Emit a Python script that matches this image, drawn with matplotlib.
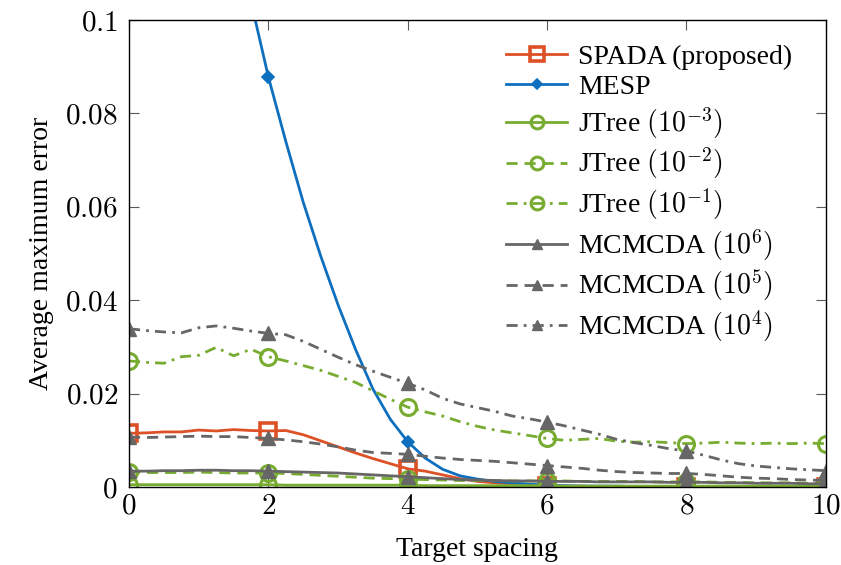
import matplotlib
matplotlib.use("Agg")
import matplotlib.pyplot as plt
import numpy as np
from matplotlib.ticker import FuncFormatter


plt.rcParams['font.family'] = ['Liberation Serif', 'DejaVu Serif']
plt.rcParams['mathtext.fontset'] = 'cm'

# target spacing, sampled every 0.25
spacing = np.arange(0, 10.25, 0.25)

spada = [0.0115, 0.0116, 0.0118, 0.0118, 0.0122, 0.0120, 0.0123, 0.0121, 0.0120,
         0.0121, 0.0112, 0.0099, 0.0086, 0.0073, 0.0061, 0.0050, 0.0039,
         0.0034, 0.0026, 0.0018, 0.0012, 0.0009, 0.0006, 0.0004, 0.0002,
         0.0002, 0.0002, 0.0001, 0.0001, 0.0001, 0.0001, 0.0001, 0.0001,
         0.0001, 0.0001, 0.0001, 0.0001, 0.0001, 0.0001, 0.0001, 0.0001]

mesp = [0.230, 0.212, 0.193, 0.176, 0.160, 0.140, 0.121, 0.104, 0.0878,
        0.0740, 0.0610, 0.0495, 0.0390, 0.0295, 0.0210, 0.0145, 0.0097,
        0.0062, 0.0038, 0.0024, 0.0017, 0.0012, 0.0009, 0.0006, 0.0004,
        0.0003, 0.0002, 0.0002, 0.0002, 0.0001, 0.0001, 0.0001, 0.0001,
        0.0001, 0.0001, 0.0001, 0.0001, 0.0001, 0.0001, 0.0001, 0.0001]

jtree_3 = [0.0005, 0.0005, 0.0005, 0.0005, 0.0005, 0.0005, 0.0005, 0.0005, 0.0005,
           0.0004, 0.0004, 0.0004, 0.0004, 0.0004, 0.0004, 0.0004, 0.0004,
           0.0003, 0.0003, 0.0003, 0.0003, 0.0003, 0.0003, 0.0003, 0.0003,
           0.0002, 0.0002, 0.0002, 0.0002, 0.0002, 0.0002, 0.0002, 0.0002,
           0.0002, 0.0002, 0.0002, 0.0002, 0.0002, 0.0002, 0.0002, 0.0002]

jtree_2 = [0.0032, 0.0031, 0.0031, 0.0031, 0.0032, 0.0031, 0.0030, 0.0030, 0.0030,
           0.0029, 0.0027, 0.0025, 0.0023, 0.0021, 0.0019, 0.0018, 0.0017,
           0.0016, 0.0015, 0.0014, 0.0014, 0.0014, 0.0013, 0.0013, 0.0013,
           0.0013, 0.0012, 0.0012, 0.0012, 0.0012, 0.0011, 0.0011, 0.0011,
           0.0011, 0.0010, 0.0010, 0.0009, 0.0009, 0.0009, 0.0008, 0.0008]

jtree_1 = [0.0270, 0.0267, 0.0265, 0.0279, 0.0282, 0.0299, 0.0281, 0.0295, 0.0279,
           0.0270, 0.0260, 0.0250, 0.0237, 0.0224, 0.0206, 0.0188, 0.0171,
           0.0161, 0.0152, 0.0140, 0.0130, 0.0122, 0.0116, 0.0110, 0.0104,
           0.0100, 0.0102, 0.0104, 0.0098, 0.0096, 0.0097, 0.0095, 0.0093,
           0.0094, 0.0096, 0.0094, 0.0093, 0.0094, 0.0093, 0.0094, 0.0093]

mcmcda_6 = [0.0034, 0.0034, 0.0035, 0.0035, 0.0036, 0.0036, 0.0035, 0.0035, 0.0034,
            0.0033, 0.0032, 0.0031, 0.0030, 0.0028, 0.0026, 0.0024, 0.0022,
            0.0020, 0.0018, 0.0016, 0.0015, 0.0014, 0.0013, 0.0013, 0.0012,
            0.0012, 0.0012, 0.0011, 0.0011, 0.0011, 0.0011, 0.0010, 0.0010,
            0.0010, 0.0009, 0.0009, 0.0008, 0.0008, 0.0008, 0.0007, 0.0007]

mcmcda_5 = [0.0107, 0.0106, 0.0107, 0.0108, 0.0109, 0.0108, 0.0108, 0.0106, 0.0104,
            0.0101, 0.0097, 0.0092, 0.0086, 0.0079, 0.0074, 0.0072, 0.0070,
            0.0066, 0.0062, 0.0059, 0.0057, 0.0055, 0.0052, 0.0049, 0.0046,
            0.0043, 0.0040, 0.0036, 0.0033, 0.0031, 0.0030, 0.0029, 0.0029,
            0.0027, 0.0024, 0.0021, 0.0019, 0.0018, 0.0016, 0.0015, 0.0014]

mcmcda_4 = [0.0339, 0.0335, 0.0332, 0.0330, 0.0341, 0.0345, 0.0340, 0.0334, 0.0329,
            0.0326, 0.0312, 0.0295, 0.0278, 0.0262, 0.0248, 0.0235, 0.0222,
            0.0208, 0.0190, 0.0178, 0.0170, 0.0162, 0.0152, 0.0146, 0.0139,
            0.0131, 0.0122, 0.0113, 0.0102, 0.0095, 0.0089, 0.0082, 0.0077,
            0.0068, 0.0058, 0.0050, 0.0045, 0.0042, 0.0039, 0.0037, 0.0035]

RED = '#DE5127'
BLUE = '#0F6FBF'
GREEN = '#77AC30'
GRAY = '#666666'

DASHED = (0, (4, 2.5))
DASHDOT = (0, (4, 2.2, 1, 2.2))

fig = plt.figure(figsize=(8.41, 5.65), dpi=100)
ax = fig.add_axes([0.1534, 0.138, 0.8286, 0.8266])

lw = 2.0
common = dict(lw=lw, markevery=8)

ax.plot(spacing, spada, color=RED, marker='s', ms=12, mew=2.6, mfc='none',
        label='SPADA (proposed)', **common)
ax.plot(spacing, mesp, color=BLUE, marker='D', ms=6, mew=1.2,
        label='MESP', **common)
ax.plot(spacing, jtree_3, color=GREEN, marker='o', ms=11.5, mew=2.2, mfc='none',
        label=r'JTree $(10^{-3})$', **common)
ax.plot(spacing, jtree_2, color=GREEN, ls=DASHED, marker='o', ms=11.5, mew=2.2, mfc='none',
        label=r'JTree $(10^{-2})$', **common)
ax.plot(spacing, jtree_1, color=GREEN, ls=DASHDOT, marker='o', ms=11.5, mew=2.2, mfc='none',
        label=r'JTree $(10^{-1})$', **common)
ax.plot(spacing, mcmcda_6, color=GRAY, marker='^', ms=9.5, mew=1,
        label=r'MCMCDA $(10^{6})$', **common)
ax.plot(spacing, mcmcda_5, color=GRAY, ls=DASHED, marker='^', ms=9.5, mew=1,
        label=r'MCMCDA $(10^{5})$', **common)
ax.plot(spacing, mcmcda_4, color=GRAY, ls=DASHDOT, marker='^', ms=9.5, mew=1,
        label=r'MCMCDA $(10^{4})$', **common)

ax.set_xlim(0, 10)
ax.set_ylim(0, 0.1)
ax.set_xticks([0, 2, 4, 6, 8, 10])
ax.set_yticks([0, 0.02, 0.04, 0.06, 0.08, 0.1])
ax.xaxis.set_major_formatter(FuncFormatter(lambda v, p: f'${v:g}$'))
ax.yaxis.set_major_formatter(FuncFormatter(lambda v, p: f'${v:g}$'))
ax.tick_params(direction='in', length=7, width=0.8, color='0.35',
               top=True, right=True, labelsize=21)
ax.tick_params(axis='y', pad=8)
ax.tick_params(axis='x', pad=5)
for s in ax.spines.values():
    s.set_linewidth(1.0)
    s.set_zorder(5)

ax.set_xlabel('Target spacing', fontsize=20, labelpad=12)
ax.set_ylabel('Average maximum error', fontsize=20, labelpad=8)

ax.legend(loc='upper right', bbox_to_anchor=(0.968, 0.972), frameon=False,
          fontsize=20, numpoints=1, markerscale=0.8, handlelength=2.2,
          handletextpad=0.4, labelspacing=0.18, borderaxespad=0)

fig.savefig('out.png', dpi=100)
